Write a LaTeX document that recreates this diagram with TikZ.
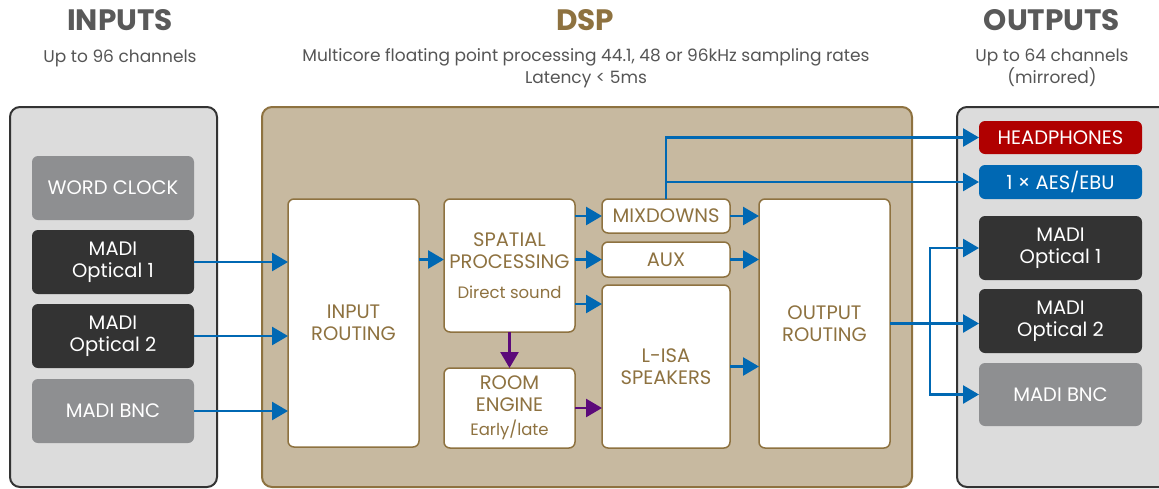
\documentclass[tikz,border=0pt]{standalone}
\usepackage{fontspec}
\setmainfont{Poppins}
\usepackage{xcolor}
\usetikzlibrary{arrows.meta}
\definecolor{ltitle}{HTML}{595959}
\definecolor{ltext}{HTML}{555555}
\definecolor{lgold}{HTML}{8E7240}
\definecolor{ltan}{HTML}{C7B9A0}
\definecolor{lpanel}{HTML}{DCDCDC}
\definecolor{ldark}{HTML}{333333}
\definecolor{lmid}{HTML}{8E8F91}
\definecolor{lblue}{HTML}{0068B3}
\definecolor{lred}{HTML}{B00000}
\definecolor{lpurple}{HTML}{5C0A7A}
\newcommand{\lfont}[1]{\fontsize{#1}{22}\selectfont}
\newcommand{\lsmall}[1]{{\lfont{16.5}#1}}
% box from (x1,y1) to (x2,y2) in pixels
\newcommand{\lbox}[7]{%
  \node[#6,minimum width={#4-#2},minimum height={#5-#3}] (#1)
    at ({(#2+#4)/2},{(#3+#5)/2}) {#7};}

\begin{document}
\begin{tikzpicture}[x=1pt,y=-1pt,
  inbox/.style={fill=#1,rounded corners=6pt,text=white,align=center,
    inner sep=0pt,outer sep=0pt,font=\lfont{19.5}},
  dspbox/.style={fill=white,draw=lgold,line width=1.5pt,rounded corners=6pt,
    text=lgold,align=center,inner sep=0pt,outer sep=0pt,font=\lfont{19.5}},
  flow/.style={draw=lblue,line width=2.7pt,-{Triangle[length=16pt,width=18pt]}},
  mix/.style={draw=lpurple,line width=2.7pt,-{Triangle[length=16pt,width=18pt]}}]
  \useasboundingbox (0,0) rectangle (1159,488);

  % titles
  \node[font=\bfseries\lfont{29.5},text=ltitle] (tin) at (120,20) {INPUTS};
  \node[font=\lfont{17},text=ltext] (sin) at (120,58) {Up to 96 channels};
  \node[font=\bfseries\lfont{29.5},text=lgold] (tdsp) at (585,20) {DSP};
  \node[font=\lfont{17},text=ltext,align=center] (sdsp) at (586,68)
    {Multicore floating point processing 44.1, 48 or 96kHz sampling rates\\Latency < 5ms};
  \node[font=\bfseries\lfont{29.5},text=ltitle] (tout) at (1052,20) {OUTPUTS};
  \node[font=\lfont{17},text=ltext,align=center] (sout) at (1052,68)
    {Up to 64 channels\\(mirrored)};

  % panels
  \begin{scope}
    \clip (0,0) rectangle (1159,488);
    \draw[fill=lpanel,draw=ldark,line width=2pt,rounded corners=10pt] (10,107) rectangle (217,487);
    \draw[fill=ltan,draw=lgold,line width=2pt,rounded corners=10pt] (262,107) rectangle (912,487);
    \draw[fill=lpanel,draw=ldark,line width=2pt,rounded corners=10pt] (957,107) rectangle (1185,487);
  \end{scope}

  % inputs
  \lbox{iwc}{32}{156}{194}{220}{inbox=lmid}{WORD CLOCK}
  \lbox{io1}{32}{230}{194}{294}{inbox=ldark}{MADI\\Optical 1}
  \lbox{io2}{32}{304}{194}{368}{inbox=ldark}{MADI\\Optical 2}
  \lbox{ibnc}{32}{379}{194}{443}{inbox=lmid}{MADI BNC}

  % dsp
  \lbox{inrt}{288}{199}{419}{447}{dspbox}{INPUT\\ROUTING}
  \lbox{sp}{444}{199}{575}{332}{dspbox}{SPATIAL\\PROCESSING\\[8pt]\lsmall{Direct sound}}
  \lbox{room}{444}{368}{575}{448}{dspbox}{ROOM\\ENGINE\\[2pt]\lsmall{Early/late}}
  \lbox{mix}{602}{199}{730}{233}{dspbox}{MIXDOWNS}
  \lbox{aux}{602}{242}{730}{277}{dspbox}{AUX}
  \lbox{lisa}{602}{285}{730}{448}{dspbox}{L-ISA\\SPEAKERS}
  \lbox{outrt}{759}{199}{890}{448}{dspbox}{OUTPUT\\ROUTING}

  % outputs
  \lbox{ohp}{979}{121}{1142}{154}{inbox=lred}{HEADPHONES}
  \lbox{oaes}{979}{165}{1142}{199}{inbox=lblue}{1 × AES/EBU}
  \lbox{oo1}{979}{216}{1142}{280}{inbox=ldark}{MADI\\Optical 1}
  \lbox{oo2}{979}{289}{1142}{353}{inbox=ldark}{MADI\\Optical 2}
  \lbox{obnc}{979}{363}{1142}{426}{inbox=lmid}{MADI BNC}

  % connectors
  \draw[flow] (io1.east) -- (io1.east -| inrt.west);
  \draw[flow] (io2.east) -- (io2.east -| inrt.west);
  \draw[flow] (ibnc.east) -- (ibnc.east -| inrt.west);
  \draw[flow] ([yshift=6pt]sp.west -| inrt.east) -- ([yshift=6pt]sp.west);
  \draw[flow] (mix.west -| sp.east) -- (mix.west);
  \draw[flow] (aux.west -| sp.east) -- (aux.west);
  \draw[flow] ([yshift=28pt]sp.south east) -- ([yshift=28pt]sp.south east -| lisa.west);
  \draw[mix] (sp.south -| room.north) -- (room.north);
  \draw[mix] (room.east) -- (room.east -| lisa.west);
  \draw[flow] (mix.east) -- (mix.east -| outrt.west);
  \draw[flow] (aux.east) -- (aux.east -| outrt.west);
  \draw[flow] (lisa.east) -- (lisa.east -| outrt.west);
  \draw[flow] (mix.north) |- (ohp.west);
  \draw[flow] (mix.north) |- (oaes.west);
  \coordinate (trunk) at (930,0);
  \draw[flow] (outrt.east) -- (outrt.east -| oo2.west);
  \draw[flow] (outrt.east -| trunk) |- (oo1.west);
  \draw[flow] (outrt.east -| trunk) |- (obnc.west);
\end{tikzpicture}
\end{document}
